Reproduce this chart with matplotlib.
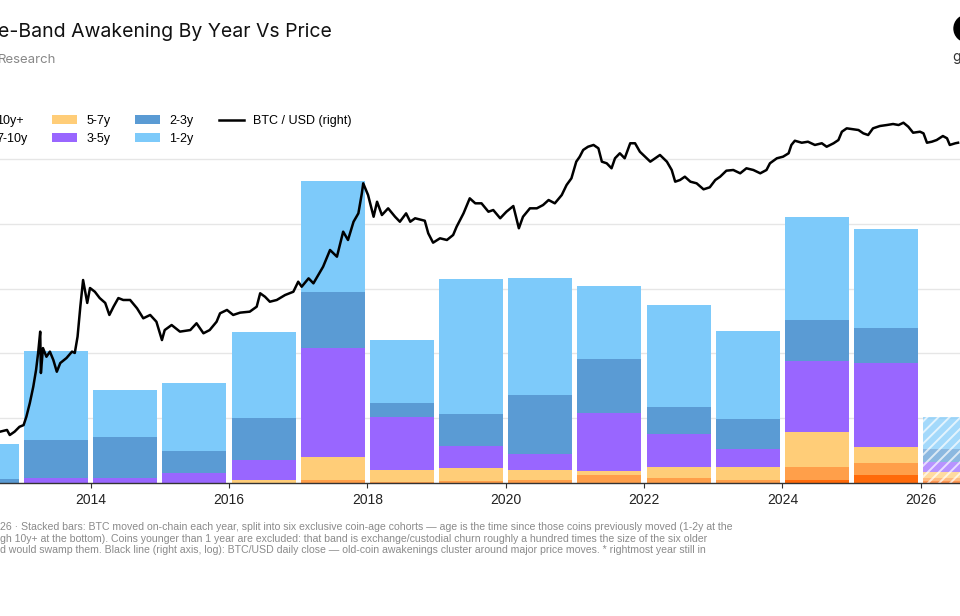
import numpy as np
import matplotlib.pyplot as plt
from matplotlib.patches import Ellipse

plt.rcParams['font.family'] = ['Liberation Sans', 'DejaVu Sans']
plt.rcParams['hatch.linewidth'] = 1.4

## Data ######################
years = [2012, 2013, 2014, 2015, 2016, 2017, 2018, 2019, 2020, 2021, 2022, 2023, 2024, 2025, 2026]
cohorts = ['10y+', '7-10y', '5-7y', '3-5y', '2-3y', '1-2y']

# million BTC moved per year, by coin-age band (last year still in progress)
band_10y_plus = [0, 0, 0, 0, 0, 0, 0, 0, 0, 0, 0, 0, 0.04, 0.12, 0.02]
band_7_10y = [0, 0, 0, 0, 0, 0.04, 0.01, 0.02, 0.04, 0.12, 0.08, 0.04, 0.20, 0.18, 0.05]
band_5_7y = [0, 0, 0, 0, 0.04, 0.35, 0.18, 0.20, 0.15, 0.065, 0.17, 0.20, 0.54, 0.25, 0.10]
band_3_5y = [0, 0.08, 0.08, 0.145, 0.31, 1.69, 0.82, 0.35, 0.25, 0.885, 0.50, 0.28, 1.10, 1.30, 0.155]
band_2_3y = [0.05, 0.58, 0.62, 0.345, 0.655, 0.87, 0.22, 0.49, 0.915, 0.84, 0.425, 0.46, 0.63, 0.54, 0.19]
band_1_2y = [0.55, 1.37, 0.73, 1.05, 1.33, 1.72, 0.98, 2.09, 1.805, 1.13, 1.575, 1.37, 1.60, 1.53, 0.50]

# BTC/USD close (decimal year, USD)
price_dates = [
    2012.69, 2012.79, 2012.83, 2012.90, 2012.97, 2013.03, 2013.07, 2013.12, 2013.17, 2013.21,
    2013.24, 2013.27, 2013.28, 2013.31, 2013.36, 2013.41, 2013.46, 2013.51, 2013.56, 2013.65,
    2013.73, 2013.77, 2013.81, 2013.85, 2013.89, 2013.95, 2013.99, 2014.06, 2014.13, 2014.21,
    2014.27, 2014.33, 2014.40, 2014.47, 2014.57, 2014.67, 2014.76, 2014.86, 2014.95, 2015.03,
    2015.07, 2015.17, 2015.29, 2015.44, 2015.53, 2015.63, 2015.72, 2015.82, 2015.87, 2015.97,
    2016.06, 2016.16, 2016.30, 2016.40, 2016.45, 2016.52, 2016.59, 2016.69, 2016.81, 2016.93,
    2017.00, 2017.05, 2017.15, 2017.22, 2017.29, 2017.36, 2017.46, 2017.56, 2017.65, 2017.72,
    2017.80, 2017.87, 2017.92, 2017.94, 2018.01, 2018.09, 2018.14, 2018.21, 2018.30, 2018.40,
    2018.47, 2018.56, 2018.62, 2018.69, 2018.83, 2018.88, 2018.95, 2019.05, 2019.15, 2019.24,
    2019.29, 2019.39, 2019.48, 2019.56, 2019.65, 2019.75, 2019.82, 2019.92, 2020.01, 2020.11,
    2020.19, 2020.25, 2020.35, 2020.45, 2020.54, 2020.62, 2020.71, 2020.81, 2020.88, 2020.95,
    2021.02, 2021.07, 2021.12, 2021.19, 2021.27, 2021.34, 2021.39, 2021.46, 2021.53, 2021.58,
    2021.65, 2021.72, 2021.80, 2021.87, 2021.94, 2022.04, 2022.09, 2022.16, 2022.23, 2022.33,
    2022.40, 2022.45, 2022.52, 2022.59, 2022.67, 2022.76, 2022.86, 2022.95, 2023.03, 2023.10,
    2023.19, 2023.29, 2023.39, 2023.48, 2023.58, 2023.68, 2023.77, 2023.82, 2023.92, 2024.01,
    2024.09, 2024.13, 2024.18, 2024.28, 2024.37, 2024.47, 2024.57, 2024.64, 2024.74, 2024.81,
    2024.86, 2024.93, 2025.03, 2025.10, 2025.17, 2025.24, 2025.31, 2025.41, 2025.51, 2025.60,
    2025.68, 2025.75, 2025.82, 2025.89, 2025.99, 2026.04, 2026.09, 2026.16, 2026.23, 2026.32,
    2026.38, 2026.42, 2026.50, 2026.54]
price_usd = [
    11.5, 12.1, 10.4, 11.5, 13.3, 14.0, 18.0, 27.1, 44.2, 72.6,
    121, 229, 66.4, 140, 108, 126, 98, 69, 89.5, 104,
    126, 121, 197, 483, 1072, 540, 844, 755, 625, 540,
    377, 483, 625, 590, 590, 460, 341, 377, 308, 178,
    240, 279, 229, 240, 294, 218, 240, 308, 396, 438,
    377, 404, 416, 483, 721, 650, 560, 590, 684, 755,
    1019, 877, 1127, 971, 1245, 1596, 2630, 2153, 4550, 3548,
    6124, 7870, 14320, 19320, 13610, 7112, 11140, 7482, 9146, 7112,
    6124, 7870, 6124, 6792, 6310, 4335, 3273, 3733, 3548, 4121,
    5272, 7870, 12330, 10620, 10620, 8260, 8690, 6792, 8260, 9795,
    5035, 7112, 9146, 9146, 10090, 11720, 10620, 13610, 18370, 22440,
    36900, 42850, 52360, 57680, 60810, 55080, 36900, 35160, 30270, 40830,
    47420, 40830, 63970, 63970, 49660, 40830, 36900, 40830, 45080, 36900,
    28770, 20280, 21330, 23550, 20280, 19320, 16140, 17140, 21330, 23550,
    28180, 28770, 26060, 30270, 28770, 26060, 28770, 35160, 40830, 42850,
    47420, 60810, 69020, 65010, 66990, 60810, 63970, 57680, 63970, 70470,
    90360, 100000, 97100, 95060, 86100, 81850, 100000, 107200, 110400, 113800,
    110400, 118300, 105000, 87700, 90360, 86100, 65010, 66990, 70470, 79430,
    74300, 60810, 63970, 65010]

footnote = [
    "26 \u00b7 Stacked bars: BTC moved on-chain each year, split into six exclusive coin-age cohorts \u2014 age is the time since those coins previously moved (1-2y at the",
    "gh 10y+ at the bottom). Coins younger than 1 year are excluded: that band is exchange/custodial churn roughly a hundred times the size of the six older",
    "d would swamp them. Black line (right axis, log): BTC/USD daily close \u2014 old-coin awakenings cluster around major price moves. * rightmost year still in",
]
###############################

colors = ['#ff6a0a', '#ff9f4a', '#ffcd78', '#9966ff', '#5a9bd4', '#7dcafa']
bands = [band_10y_plus, band_7_10y, band_5_7y, band_3_5y, band_2_3y, band_1_2y]

W, H = 960, 616
def fx(x):
    return x / W
def fy(y):
    return 1 - y / H

fig = plt.figure(figsize=(9.6, 6.16), dpi=100)
fig.patch.set_facecolor('white')

# plot area runs past both edges of the canvas (cropped view)
ax = fig.add_axes([fx(-20), fy(482.7), 1000 / W, (482.7 - 100) / H])
ax.set_xlim(2012.3996, 2026.8569)
ax.set_ylim(0, 5.915)

centers = np.array(years) + 0.5
full = slice(0, len(years) - 1)
bottom = np.zeros(len(years))
for name, vals, col in zip(cohorts, bands, colors):
    vals = np.array(vals)
    ax.bar(centers[full], vals[full], bottom=bottom[full], width=0.925,
           color=col, linewidth=0, label=name, zorder=2)
    # current year: faded + hatched
    ax.bar(centers[-1], vals[-1], bottom=bottom[-1], width=0.925,
           facecolor=col, alpha=0.7, hatch='///', edgecolor='white', linewidth=0, zorder=2)
    bottom = bottom + vals

ax.set_yticks([1, 2, 3, 4, 5])
ax.yaxis.grid(True, color='#e6e6e6', linewidth=1.0)
ax.set_axisbelow(True)
ax.tick_params(axis='y', left=False, labelleft=False)
ax.set_xticks([2014, 2016, 2018, 2020, 2022, 2024, 2026])
ax.tick_params(axis='x', length=3.5, width=0.8, color='#333333', labelsize=10,
               labelcolor='#222222', pad=4)
for s in ['top', 'left', 'right']:
    ax.spines[s].set_visible(False)
ax.spines['bottom'].set_color('#333333')
ax.spines['bottom'].set_linewidth(1.0)
ax.spines['bottom'].set_zorder(3)

ax2 = ax.twinx()
ax2.set_yscale('log')
ax2.set_ylim(2.5, 233300)
line, = ax2.plot(price_dates, price_usd, color='black', linewidth=1.8,
                 label='BTC / USD (right)', zorder=4)
ax2.tick_params(axis='y', right=False, labelright=False, which='both')
for s in ['top', 'left', 'right', 'bottom']:
    ax2.spines[s].set_visible(False)

handles, labels = ax.get_legend_handles_labels()
handles.append(line)
labels.append('BTC / USD (right)')
fig.legend(handles, labels, loc='upper left', bbox_to_anchor=(fx(-38), fy(115)),
           ncol=4, frameon=False, fontsize=9, handlelength=2.0, handleheight=0.7,
           handletextpad=0.72, columnspacing=2.0, labelspacing=0.45,
           borderpad=0, borderaxespad=0)

fig.text(fx(-2), fy(36.7), 'e-Band Awakening By Year Vs Price', fontsize=14,
         family=['Inter', 'DejaVu Sans'], color='#111111', va='baseline')
fig.text(fx(-2), fy(62.7), 'Research', fontsize=9.5,
         family=['Inter', 'DejaVu Sans'], color='#888888', va='baseline')

fig.add_artist(Ellipse((fx(967.5), fy(28.5)), width=27 / W, height=27 / H,
                       transform=fig.transFigure, color='black'))
fig.text(fx(952), fy(61), 'glassnode', fontsize=10, color='#333333', va='baseline',
         family=['Inter', 'DejaVu Sans'])

for i, txt in enumerate(footnote):
    fig.text(fx(0), fy(527.5 + i * 11.2), txt, fontsize=7.6, color='#8a8a8a', va='center')

fig.savefig('out.png', dpi=100)
